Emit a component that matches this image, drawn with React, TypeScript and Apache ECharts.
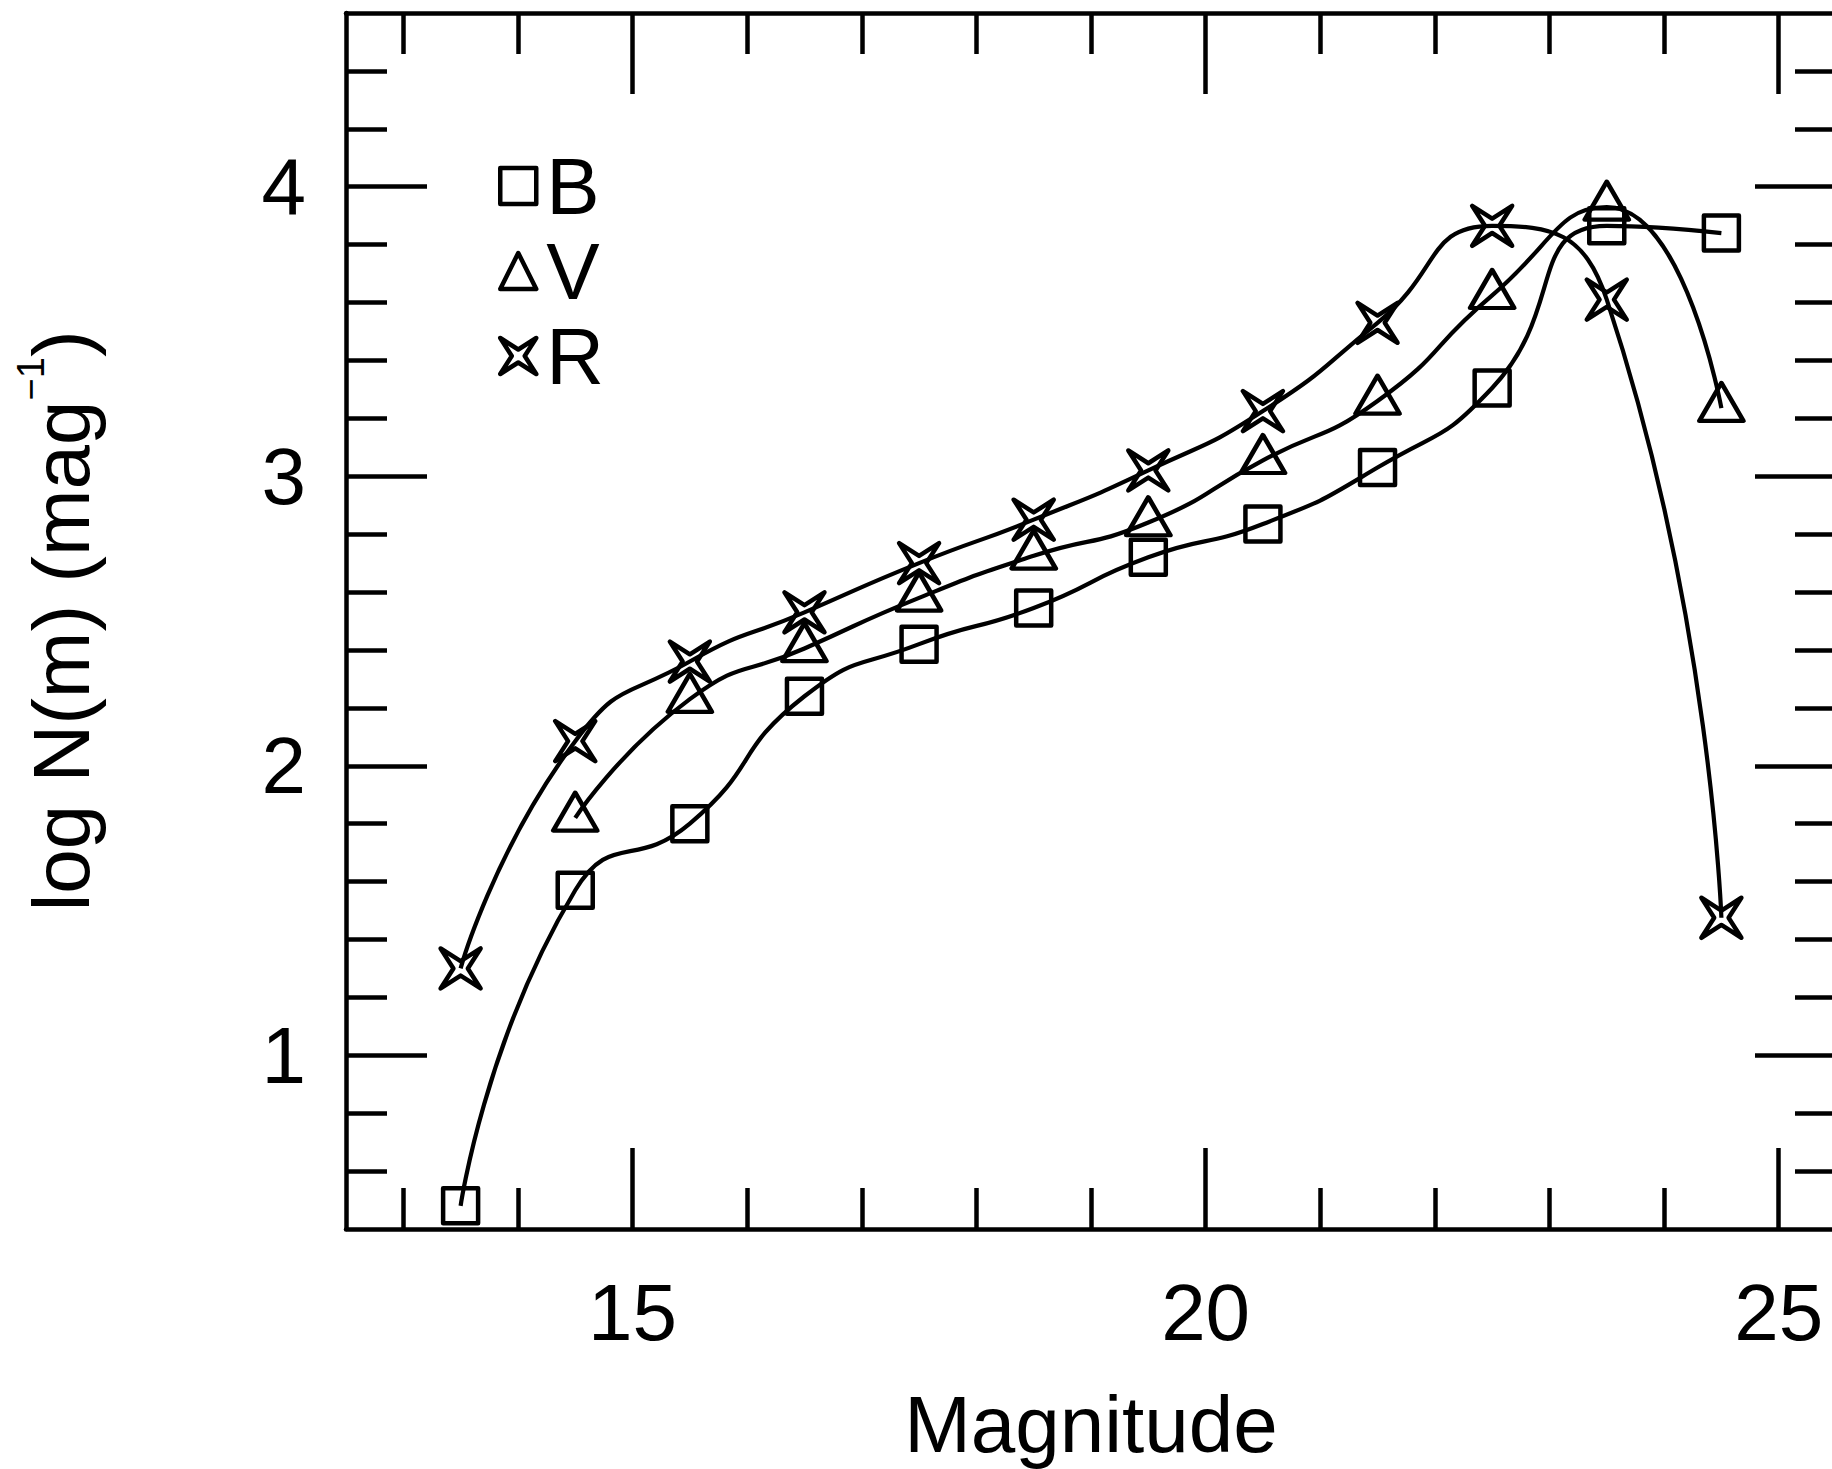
import React, { useEffect, useRef } from 'react';
import * as echarts from 'echarts';

// Magnitude bins (x) for each filter
const MAG_B = [13.5, 14.5, 15.5, 16.5, 17.5, 18.5, 19.5, 20.5, 21.5, 22.5, 23.5, 24.5];
const MAG_V = [14.5, 15.5, 16.5, 17.5, 18.5, 19.5, 20.5, 21.5, 22.5, 23.5, 24.5];
const MAG_R = [13.5, 14.5, 15.5, 16.5, 17.5, 18.5, 19.5, 20.5, 21.5, 22.5, 23.5, 24.5];

// log N(m) values
const LOGN_B = [0.48, 1.57, 1.8, 2.24, 2.42, 2.545, 2.72, 2.835, 3.03, 3.305, 3.865, 3.84];
const LOGN_V = [1.82, 2.23, 2.405, 2.58, 2.725, 2.84, 3.055, 3.26, 3.625, 3.93, 3.235];
const LOGN_R = [1.3, 2.085, 2.36, 2.53, 2.7, 2.85, 3.02, 3.225, 3.53, 3.865, 3.61, 1.475];

// Axis ranges and ticks
const X_MIN = 12.5;
const X_MAX = 25.5;
const Y_MIN = 0.4;
const Y_MAX = 4.6;
const X_MAJOR_TICKS = [15, 20, 25];
const X_MINOR_TICKS = [13, 14, 16, 17, 18, 19, 21, 22, 23, 24];
const Y_MAJOR_TICKS = [1, 2, 3, 4];
const Y_MINOR_TICKS = [0.6, 0.8, 1.2, 1.4, 1.6, 1.8, 2.2, 2.4, 2.6, 2.8, 3.2, 3.4, 3.6, 3.8, 4.2, 4.4];

const FONT = 'Liberation Sans, Arial, Helvetica, sans-serif';
const STAR =
  'path://M0,0 L50,32 L100,0 L68,50 L100,100 L50,68 L0,100 L32,50 Z';

function zip(xs: number[], ys: number[]) {
  return xs.map((x, i) => [x, ys[i]]);
}

export default function App() {
  const ref = useRef<HTMLDivElement>(null);
  useEffect(() => {
    if (!ref.current) return;
    const chart = echarts.init(ref.current, null, { renderer: 'svg' });
    const axisLine = { show: true, onZero: false, lineStyle: { color: '#000', width: 4.5 } };
    const noLine = { show: false, onZero: false };
    const majorTick = (vals: number[]) => ({
      show: true, inside: true, length: 81, customValues: vals,
      lineStyle: { color: '#000', width: 4.5 },
    });
    const minorTick = (vals: number[]) => ({
      show: true, inside: true, length: 41, customValues: vals,
      lineStyle: { color: '#000', width: 4.5 },
    });
    const xBase = { type: 'value', min: X_MIN, max: X_MAX, splitLine: { show: false }, nameMoveOverlap: false };
    const yBase = { type: 'value', min: Y_MIN, max: Y_MAX, splitLine: { show: false }, nameMoveOverlap: false };
    const lineCommon = {
      type: 'line',
      smooth: 0.55,
      showAllSymbol: true,
      lineStyle: { color: '#000', width: 4.2 },
      itemStyle: { color: 'rgba(0,0,0,0)', borderColor: '#000', borderWidth: 4.5, borderJoin: 'round' },
      emphasis: { disabled: true },
      xAxisIndex: 0,
      yAxisIndex: 0,
      z: 3,
    };
    chart.setOption({
      animation: false,
      backgroundColor: '#fff',
      grid: { left: 346, right: -4, top: 13, bottom: 240, containLabel: false, outerBoundsMode: 'none' },
      legend: {
        orient: 'vertical',
        left: 498,
        top: 146,
        padding: 0,
        itemWidth: 36,
        itemHeight: 36,
        itemGap: 5,
        selectedMode: false,
        data: [
          { name: 'B', icon: 'rect' },
          { name: 'V', icon: 'triangle' },
          { name: 'R', icon: STAR },
        ],
        itemStyle: { color: 'rgba(0,0,0,0)', borderColor: '#000', borderWidth: 4.5, borderJoin: 'round' },
        textStyle: { fontSize: 80, color: '#000', fontFamily: FONT, padding: [0, 0, 0, 5] },
      },
      xAxis: [
        {
          ...xBase, position: 'bottom', axisLine,
          axisTick: majorTick(X_MAJOR_TICKS),
          axisLabel: { customValues: X_MAJOR_TICKS, fontSize: 80, color: '#000', fontFamily: FONT, margin: 43 },
          name: 'Magnitude', nameLocation: 'middle', nameGap: 155,
          nameTextStyle: { fontSize: 80, color: '#000', fontFamily: FONT },
        },
        { ...xBase, position: 'bottom', axisLine: noLine, axisTick: minorTick(X_MINOR_TICKS), axisLabel: { show: false } },
        { ...xBase, position: 'top', axisLine, axisTick: majorTick(X_MAJOR_TICKS), axisLabel: { show: false } },
        { ...xBase, position: 'top', axisLine: noLine, axisTick: minorTick(X_MINOR_TICKS), axisLabel: { show: false } },
      ],
      yAxis: [
        {
          ...yBase, position: 'left', axisLine,
          axisTick: majorTick(Y_MAJOR_TICKS),
          axisLabel: { customValues: Y_MAJOR_TICKS, fontSize: 80, color: '#000', fontFamily: FONT, margin: 40 },
          name: '{a|log N(m) (mag}{s|−1}{a|)}',
          nameLocation: 'middle',
          nameRotate: 90,
          nameGap: 235,
          nameTextStyle: {
            color: '#000',
            fontFamily: FONT,
            fontSize: 80,
            rich: {
              a: { fontSize: 80, lineHeight: 100, color: '#000', fontFamily: FONT },
              s: { fontSize: 38, lineHeight: 38, color: '#000', fontFamily: FONT, padding: [0, 0, 61, 0] },
            },
          },
        },
        { ...yBase, position: 'left', axisLine: noLine, axisTick: minorTick(Y_MINOR_TICKS), axisLabel: { show: false } },
        { ...yBase, position: 'right', axisLine, axisTick: majorTick(Y_MAJOR_TICKS), axisLabel: { show: false } },
        { ...yBase, position: 'right', axisLine: noLine, axisTick: minorTick(Y_MINOR_TICKS), axisLabel: { show: false } },
      ],
      series: [
        { ...lineCommon, name: 'B', data: zip(MAG_B, LOGN_B), symbol: 'rect', symbolSize: 35 },
        { ...lineCommon, name: 'V', data: zip(MAG_V, LOGN_V), symbol: 'triangle', symbolSize: [44, 38], symbolOffset: [0, -6.3] },
        { ...lineCommon, name: 'R', data: zip(MAG_R, LOGN_R), symbol: STAR, symbolSize: 40 },
      ],
    });
    return () => chart.dispose();
  }, []);
  return <div ref={ref} style={{ position: 'absolute', left: 0, top: 0, width: 1832, height: 1469 }} />;
}
